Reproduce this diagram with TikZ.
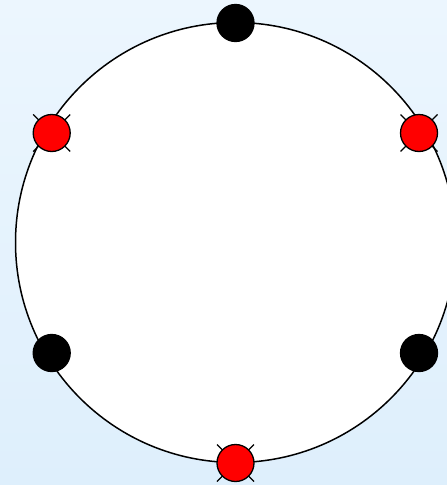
\documentclass[tikz,border=0pt]{standalone}
\usetikzlibrary{positioning}
\definecolor{ceuclaro}{RGB}{236,246,254}
\definecolor{ceu}{RGB}{222,239,252}
\begin{document}
\begin{tikzpicture}[
    x=1pt, y=-1pt,
    ponto/.style={
        circle,
        draw=black,
        line width=1.3pt,
        inner sep=0pt,
        minimum size=37pt
    },
    pontoPreto/.style={
        ponto,
        fill=black
    },
    pontoVermelho/.style={
        ponto,
        fill=red
    },
    risco/.style={
        line width=1.3pt
    }
]

\useasboundingbox (0,0) rectangle (447,485);
\shade[top color=ceuclaro, bottom color=ceu] (0,0) rectangle (447,485);

\begin{scope}
\clip (0,0) rectangle (447,485);
\draw[fill=white, line width=1.5pt] (235.5,242.5) circle (220);
\end{scope}

\coordinate (topo) at (235.5,23);
\coordinate (supEsq) at (51.7,133);
\coordinate (supDir) at (419,133);
\coordinate (infEsq) at (51.7,353);
\coordinate (infDir) at (419,353);
\coordinate (base) at (235.5,463);

% riscos dos pontos vermelhos
\foreach \p in {supEsq, supDir, base}
{
    \draw[risco] (\p) +(-18.5,-18.5) -- +(18.5,18.5);
    \draw[risco] (\p) +(-18.5,18.5) -- +(18.5,-18.5);
}

\node[pontoPreto] (nTopo) at (topo) {};
\node[pontoVermelho] (nSupEsq) at (supEsq) {};
\node[pontoVermelho] (nSupDir) at (supDir) {};
\node[pontoPreto] (nInfEsq) at (infEsq) {};
\node[pontoPreto] (nInfDir) at (infDir) {};
\node[pontoVermelho] (nBase) at (base) {};

\end{tikzpicture}
\end{document}
